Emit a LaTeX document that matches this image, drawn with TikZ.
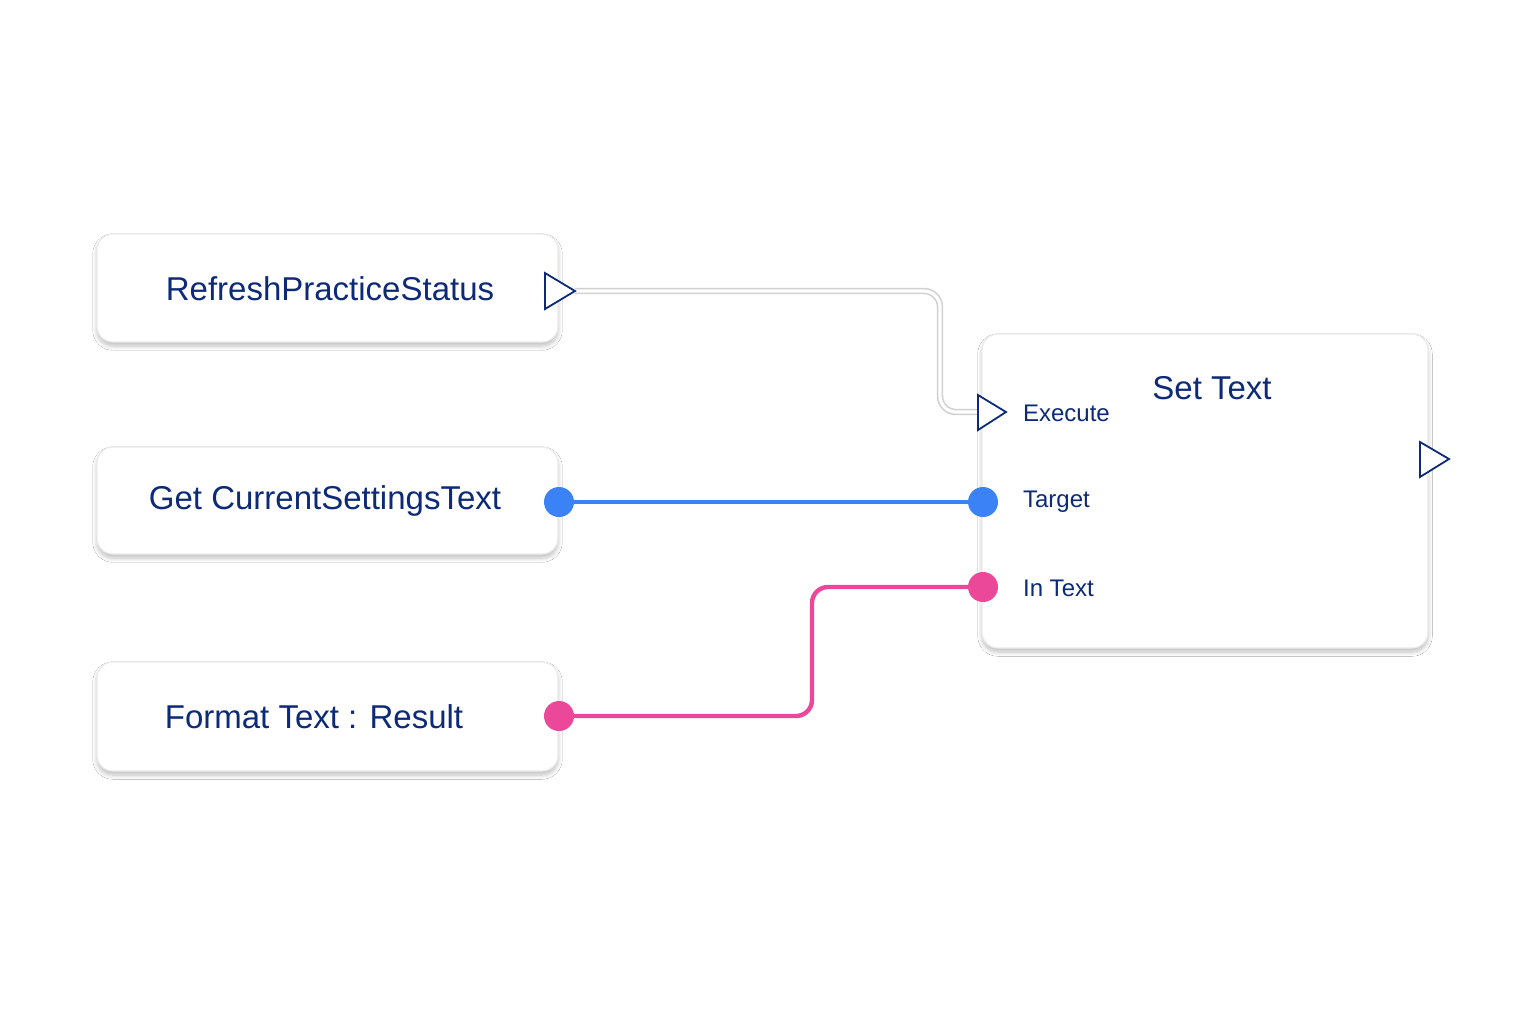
\documentclass[tikz,border=0pt]{standalone}
\usepackage{fontspec}
\setmainfont{Liberation Sans}
\usetikzlibrary{shadows.blur}
\definecolor{navy}{HTML}{0D2A78}
\definecolor{wblue}{HTML}{3B82F6}
\definecolor{wpink}{HTML}{EC4899}
\begin{document}
\begin{tikzpicture}[x=0.5pt,y=-0.5pt,
  box/.style={draw=black!8,fill=white,rounded corners=8pt,line width=0.6pt,blur shadow={shadow blur steps=8,shadow xshift=0pt,shadow yshift=-2pt,shadow opacity=25}},
  title/.style={text=navy,font=\fontsize{16.5}{18}\selectfont},
  pin/.style={text=navy,font=\fontsize{12}{14}\selectfont,anchor=west},
  tri/.style={draw=navy,fill=white,line width=0.9pt,line join=miter}]
\useasboundingbox (0,0) rectangle (1536,1024);
\fill[white!98!black] (0,0) rectangle (1536,1024);
\fill[white] (0,0) rectangle (1536,1024);
% boxes
\draw[box] (97,234) rectangle (558,342);
\draw[box] (97,447) rectangle (558,554);
\draw[box] (97,662) rectangle (558,771);
\draw[box] (982,334) rectangle (1428,648);
\node[title] (rps) at (330,289) {RefreshPracticeStatus};
\node[title] (gcs) at (325,501) {Get CurrentSettingsText};
\node[title] (ftr) at (314,717) {Format Text : Result};
\node[title] (st) at (1212,388) {Set Text};
\node[pin] (ex) at (1016,413) {Execute};
\node[pin] (tg) at (1016,502) {Target};
\node[pin] (it) at (1016,588) {In Text};
% ports
\coordinate (o1) at (575,291);
\coordinate (i1) at (978,412);
\coordinate (b1) at (559,502);
\coordinate (b2) at (983,502);
\coordinate (p1) at (559,716);
\coordinate (p2) at (983,587);
% exec wire
\draw[black!18,line width=3.2pt,rounded corners=8pt] (o1) -- (940,291) -- (940,412) -- (i1);
\draw[white,line width=1.6pt,rounded corners=8pt] (o1) -- (940,291) -- (940,412) -- (i1);
\draw[wblue,line width=2.2pt] (b1) -- (b2);
\draw[wpink,line width=2.2pt,rounded corners=8pt] (p1) -- (812,716) -- (812,587) -- (p2);
\fill[wblue] (b1) circle (15);
\fill[wblue] (b2) circle (15);
\fill[wpink] (p1) circle (15);
\fill[wpink] (p2) circle (15);
\draw[tri] (545,273) -- (575,291) -- (545,309) -- cycle;
\draw[tri] (978,395) -- (1006,412) -- (978,430) -- cycle;
\draw[tri] (1420,442) -- (1449,459) -- (1420,477) -- cycle;
\end{tikzpicture}
\end{document}
